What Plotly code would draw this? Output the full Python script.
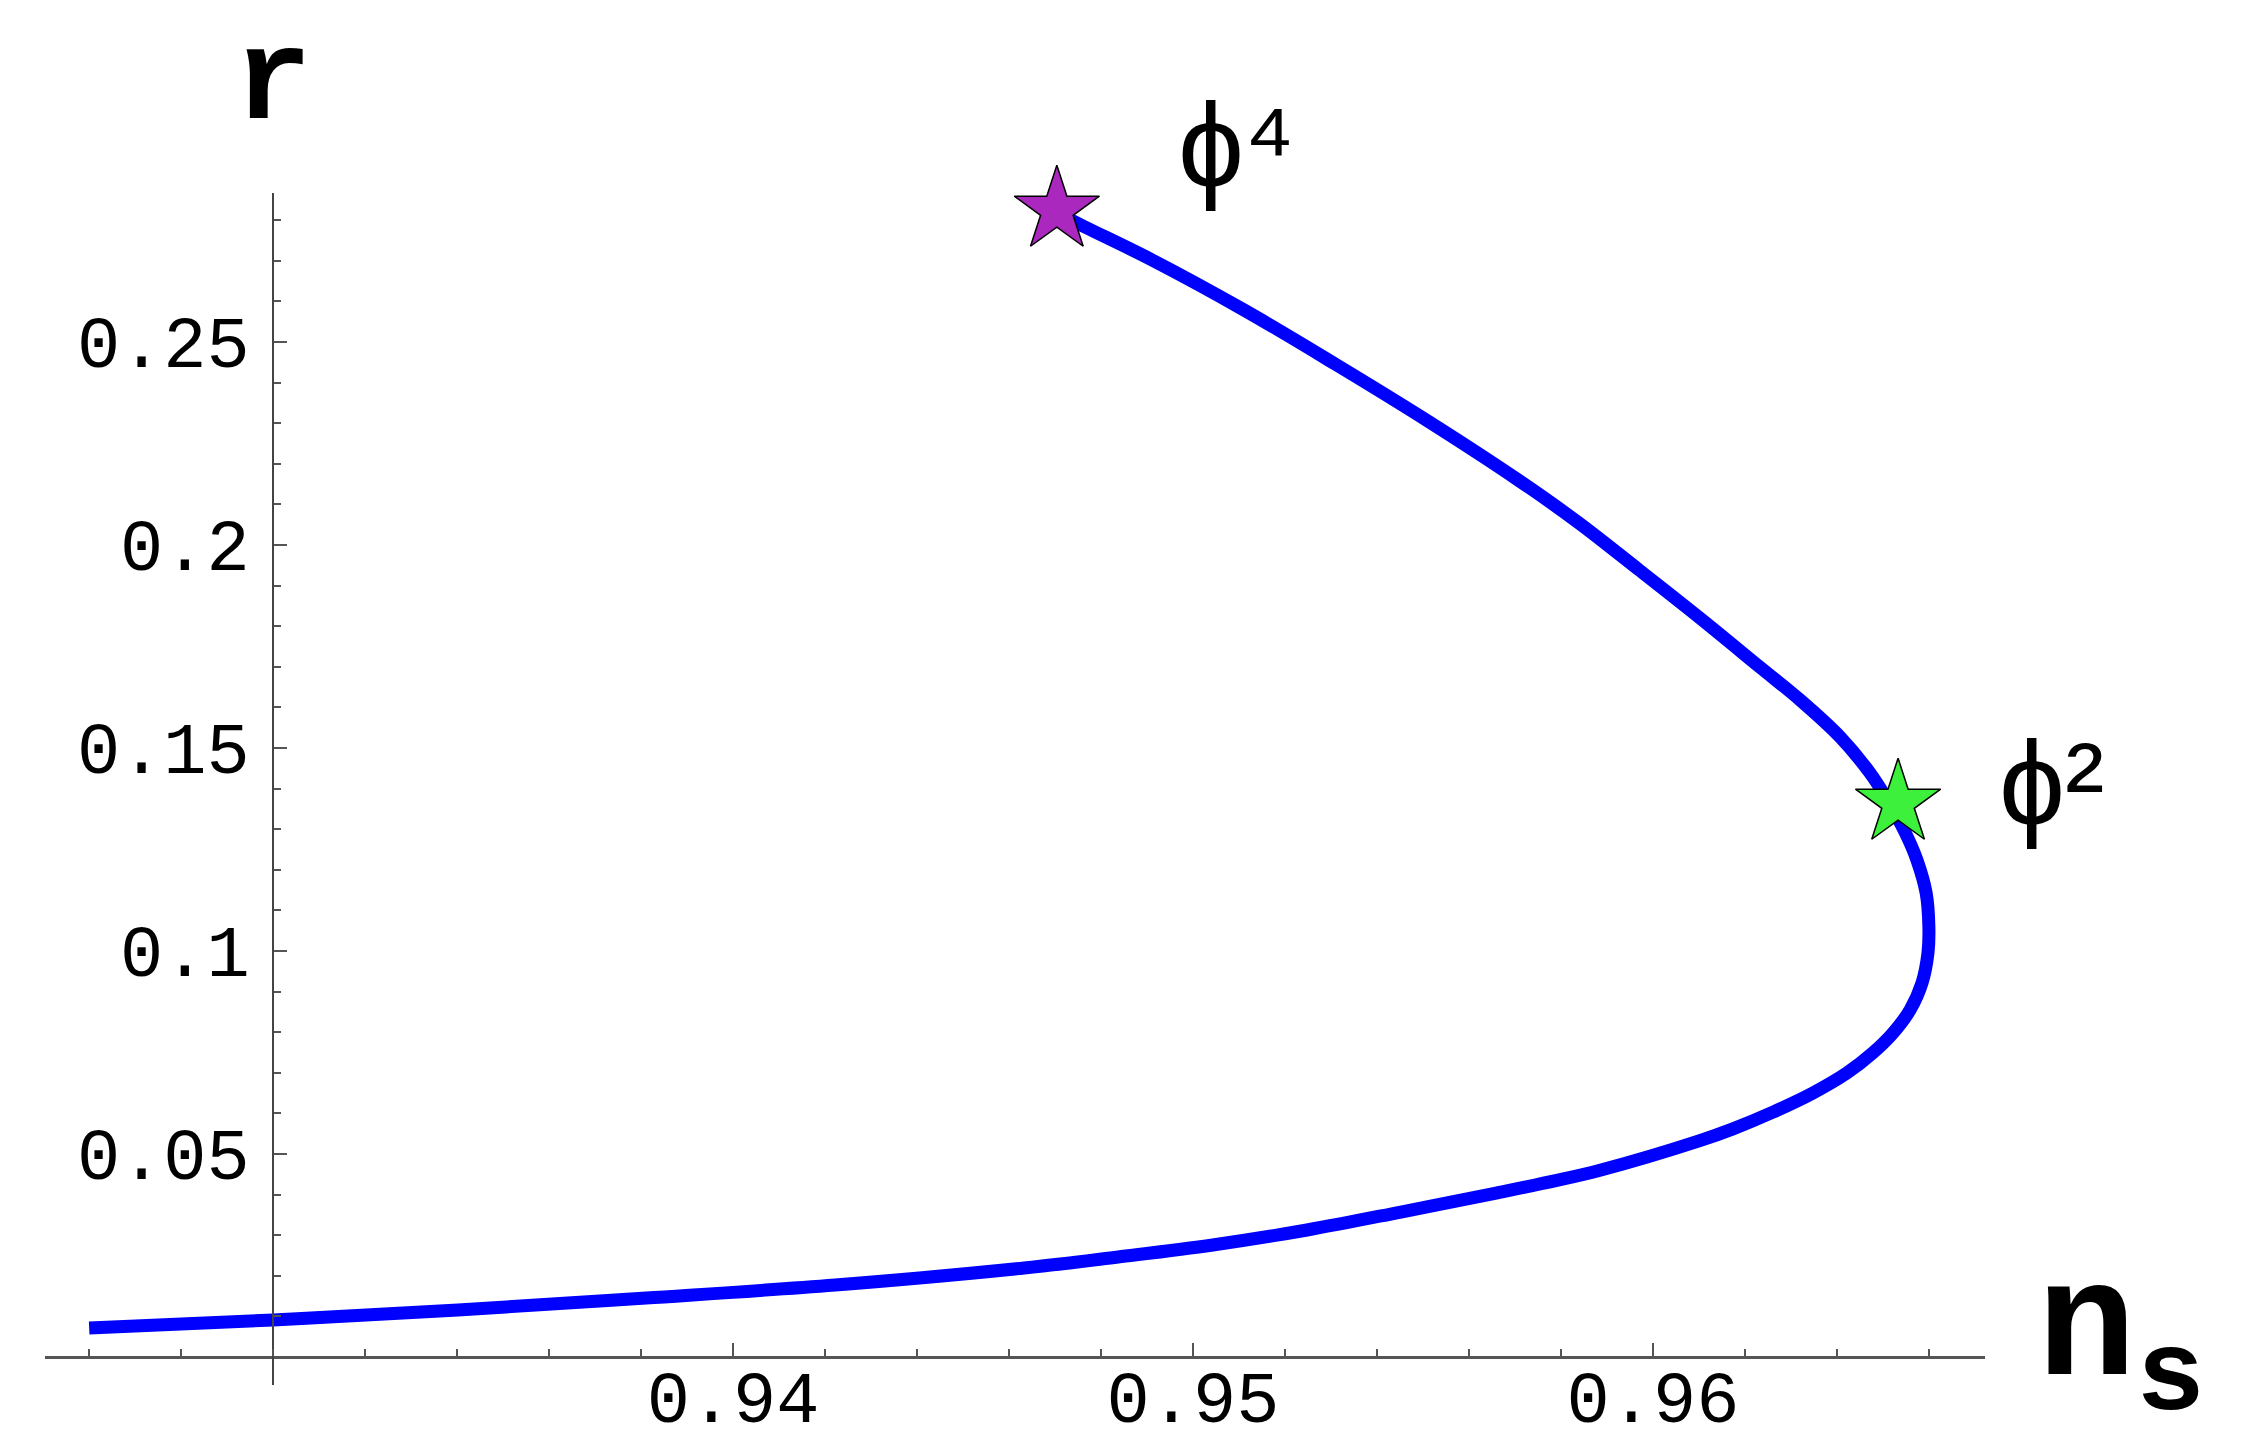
import plotly.graph_objects as go

# ---- data ----
ns_curve = [0.94704, 0.94765, 0.94911, 0.95111, 0.95309, 0.95507, 0.95707,
            0.95839, 0.95970, 0.96102, 0.96235, 0.96320, 0.96407, 0.96472,
            0.96506, 0.96549, 0.96574, 0.96594, 0.96600, 0.96598, 0.96585,
            0.96559, 0.96522, 0.96478, 0.96422, 0.96348, 0.96261, 0.96174,
            0.96102, 0.95885, 0.95791, 0.95659, 0.95452, 0.95248, 0.95043,
            0.94837, 0.94633, 0.94222, 0.93811, 0.93402, 0.93000, 0.92600]
r_curve = [0.28180, 0.27833, 0.27020, 0.25788, 0.24458, 0.23079, 0.21601,
           0.20542, 0.19384, 0.18202, 0.16970, 0.16182, 0.15271, 0.14384,
           0.13793, 0.12906, 0.12241, 0.11429, 0.10591, 0.09951, 0.09212,
           0.08547, 0.07980, 0.07488, 0.06995, 0.06502, 0.06030, 0.05620,
           0.05330, 0.04600, 0.04350, 0.04039, 0.03571, 0.03128, 0.02759,
           0.02463, 0.02192, 0.01773, 0.01453, 0.01158, 0.00911, 0.00714]

star_ns = [0.94704, 0.96533]
star_r = [0.28251, 0.13645]
star_labels = ["\u03d5\u2074", "\u03d5\u00b2"]
star_colors = ["#AA28BE", "#3CF03C"]

x_tickvals = [0.94, 0.95, 0.96]
x_ticktext = ["0.94", "0.95", "0.96"]
y_tickvals = [0.05, 0.10, 0.15, 0.20, 0.25]
y_ticktext = ["0.05", "0.1", "0.15", "0.2", "0.25"]

x_title = "n<sub>s</sub>"
y_title = "r"

# ---- layout constants (page body adds an 8px margin) ----
W, H = 2252, 1444
x_range = [0.92504, 0.96722]
y_range = [-0.0069, 0.2867]
x_cross = 0.93
y_cross = 0.0

axis_color = "#555555"
mono = "Liberation Mono, DejaVu Sans Mono, monospace"
sans = "Liberation Sans, DejaVu Sans, Arial, sans-serif"
tick_font = dict(family=mono, size=72, color="black")
label_font = dict(family=sans, size=118, color="black")

fig = go.Figure()

fig.add_trace(go.Scatter(
    x=ns_curve, y=r_curve, mode="lines",
    line=dict(color="#0000FF", width=13, shape="spline", smoothing=1.0),
    hoverinfo="skip", showlegend=False, cliponaxis=False,
))

fig.add_trace(go.Scatter(
    x=star_ns, y=star_r, mode="markers",
    marker=dict(symbol="star", size=64, color=star_colors,
                line=dict(color="black", width=1.5)),
    hoverinfo="skip", showlegend=False, cliponaxis=False,
))

label_shifts = [(180, 65), (153, 20)]
annotations = []
for xv, yv, txt, (dx, dy) in zip(star_ns, star_r, star_labels, label_shifts):
    annotations.append(dict(
        x=xv, y=yv, xref="x", yref="y", text=txt, showarrow=False,
        xshift=dx, yshift=dy, xanchor="center", yanchor="middle",
        font=label_font,
    ))

# axis titles as text
annotations.append(dict(
    x=x_cross, y=1, xref="x", yref="paper", text="<b>" + y_title + "</b>",
    showarrow=False, xanchor="center", yanchor="bottom", yshift=34,
    font=dict(family=mono, size=130, color="black"),
))
annotations.append(dict(
    x=1, y=(y_cross - y_range[0]) / (y_range[1] - y_range[0]),
    xref="paper", yref="paper", text="<b>" + x_title + "</b>",
    showarrow=False, xanchor="left", yanchor="middle", xshift=50, yshift=16,
    font=dict(family=mono, size=165, color="black"),
))

fig.update_layout(
    width=W, height=H,
    margin=dict(l=37, r=275, t=185, b=67, pad=0, autoexpand=False),
    paper_bgcolor="white", plot_bgcolor="white",
    showlegend=False,
    annotations=annotations,
    xaxis=dict(
        range=x_range, anchor="free", automargin=False,
        position=(y_cross - y_range[0]) / (y_range[1] - y_range[0]),
        showline=True, linecolor=axis_color, linewidth=3,
        showgrid=False, zeroline=False,
        tickmode="array", tickvals=x_tickvals, ticktext=x_ticktext,
        ticks="inside", ticklen=13, tickwidth=2, tickcolor=axis_color,
        tickfont=tick_font, ticklabelstandoff=-23,
        minor=dict(tickmode="linear", tick0=0.926, dtick=0.002,
                   ticks="inside", ticklen=7, tickwidth=2,
                   tickcolor=axis_color, showgrid=False),
    ),
    yaxis=dict(
        range=y_range, anchor="free", automargin=False,
        position=(x_cross - x_range[0]) / (x_range[1] - x_range[0]),
        showline=True, linecolor="#444444", linewidth=2,
        showgrid=False, zeroline=False,
        tickmode="array", tickvals=y_tickvals, ticktext=y_ticktext,
        ticks="inside", ticklen=13, tickwidth=2, tickcolor=axis_color,
        tickfont=tick_font, ticklabelstandoff=8,
        minor=dict(tickmode="linear", tick0=0, dtick=0.01,
                   ticks="inside", ticklen=7, tickwidth=2,
                   tickcolor=axis_color, showgrid=False),
    ),
)

fig.write_html("out.html")
